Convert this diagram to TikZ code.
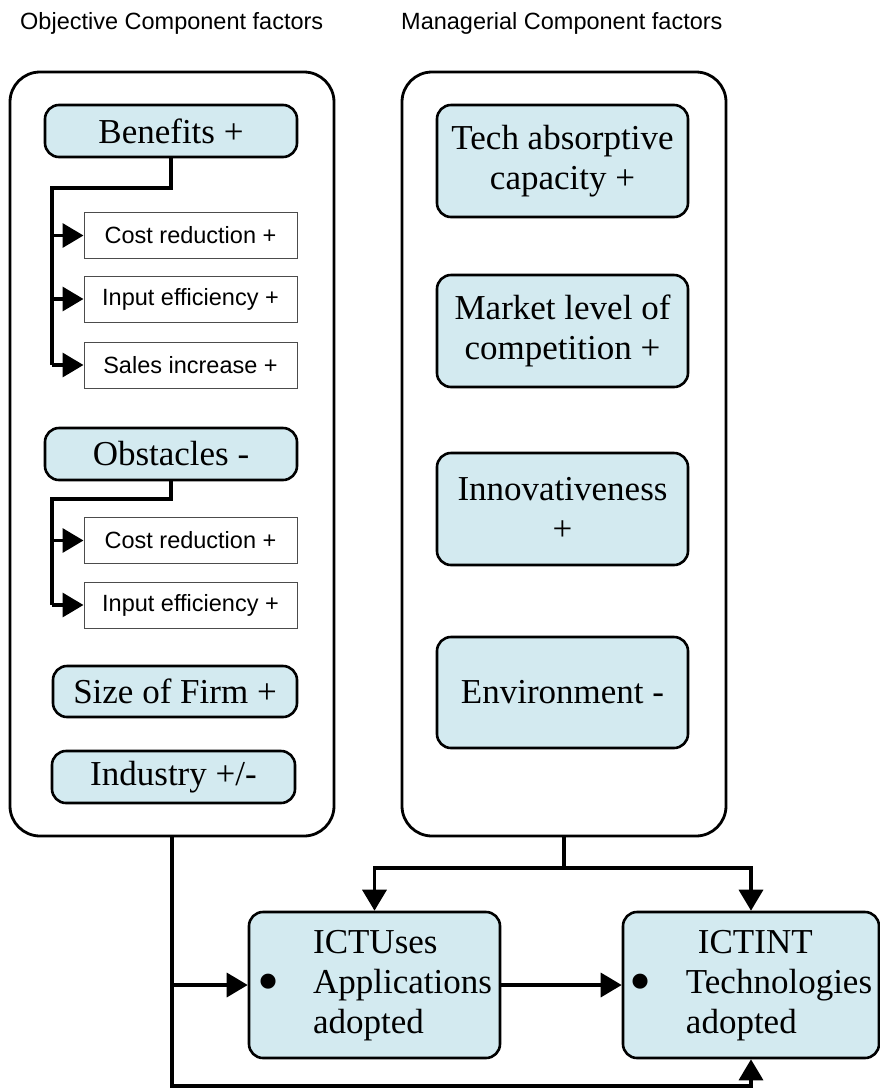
\documentclass[tikz,border=0pt]{standalone}
\usepackage{graphicx}
\usepackage{fontspec}
\setmainfont{Liberation Serif}
\newfontfamily\labelsans{Liberation Sans}
\usetikzlibrary{arrows.meta}
\definecolor{factorblue}{RGB}{211,234,240}
\newcommand{\bigdot}{\raisebox{-9pt}{\scalebox{1.8}{\textbullet}}}
\tikzset{
	group/.style={draw,line width=2.8pt,rounded corners=30pt,minimum width=324pt,minimum height=764pt},
	factor/.style={draw,line width=2.6pt,rounded corners=14pt,fill=factorblue,inner sep=0pt,align=center,font=\fontsize{35}{40}\selectfont},
	subfactor/.style={draw=black!70,line width=1pt,minimum width=213pt,minimum height=46pt,inner sep=0pt,font=\labelsans\fontsize{23.5}{28}\selectfont},
	grouptitle/.style={anchor=base west,inner sep=0pt,font=\labelsans\fontsize{23.5}{28}\selectfont},
	link/.style={line width=3.5pt},
	feed/.style={link,-{Triangle[length=21pt,width=24pt]}}
}
\begin{document}
\begin{tikzpicture}[x=1pt,y=-1pt]
		\useasboundingbox (0,0) rectangle (880,1088);
		\node[grouptitle] (objtitle) at (20,29) {Objective Component factors};
		\node[grouptitle] (mantitle) at (401,29) {Managerial Component factors};
		\node[group] (objective) at (172,454) {};
		\node[group] (managerial) at (564,454) {};
		\node[factor,minimum width=252pt,minimum height=52pt] (benefits) at (171,131) {Benefits +};
		\node[subfactor] (costA) at (190.5,235.5) {Cost reduction +};
		\node[subfactor] (inputA) at (190.5,299) {Input efficiency +};
		\node[subfactor] (salesA) at (190.5,365) {Sales increase +};
		\node[factor,minimum width=252pt,minimum height=52pt] (obstacles) at (171,454) {Obstacles -};
		\node[subfactor] (costB) at (190.5,540.5) {Cost reduction +};
		\node[subfactor] (inputB) at (190.5,605) {Input efficiency +};
		\node[factor,minimum width=244pt,minimum height=51pt] (size) at (175,691.5) {Size of Firm +};
		\node[factor,minimum width=243pt,minimum height=52pt] (industry) at (173.5,777) {Industry +/-};
		\node[factor,minimum width=251pt,minimum height=112pt] (tech) at (562.5,161) {Tech absorptive\\capacity +};
		\node[factor,minimum width=251pt,minimum height=112pt] (market) at (562.5,331) {Market level of\\competition +};
		\node[factor,minimum width=251pt,minimum height=112pt] (innov) at (562.5,509) {Innovativeness\\+};
		\node[factor,minimum width=251pt,minimum height=111pt] (environ) at (562.5,692.5) {Environment -};
		\node[factor,minimum width=251pt,minimum height=146pt] (ictuses) at (374.5,985) {\begin{tabular}{@{}l@{\hspace{34pt}}l@{}} & ICTUses\\ \bigdot & Applications\\ & adopted\end{tabular}};
		\node[factor,minimum width=256pt,minimum height=146pt] (ictint) at (751,985) {\begin{tabular}{@{}l@{\hspace{34pt}}l@{}} & \hspace{12pt}ICTINT\\ \bigdot & Technologies\\ & adopted\end{tabular}};
		\coordinate (bspine) at (52,188);
		\coordinate (ospine) at (52,499);
		\coordinate (hub) at (564,868);
		\coordinate (lowbus) at (172,1086);
		\draw[link] (benefits.south) |- (bspine) -- (bspine |- salesA);
		\draw[feed] (bspine |- costA) -- (costA);
		\draw[feed] (bspine |- inputA) -- (inputA);
		\draw[feed] (bspine |- salesA) -- (salesA);
		\draw[link] (obstacles.south) |- (ospine) -- (ospine |- inputB);
		\draw[feed] (ospine |- costB) -- (costB);
		\draw[feed] (ospine |- inputB) -- (inputB);
		\draw[link] (managerial.south) -- (hub);
		\draw[feed] (hub) -| (ictuses.north);
		\draw[feed] (hub) -| (ictint.north);
		\draw[feed] (objective.south) |- (lowbus) -| (ictint.south);
		\draw[feed] (lowbus |- ictuses.west) -- (ictuses.west);
		\draw[feed] (ictuses) -- (ictint);
		\end{tikzpicture}
\end{document}
